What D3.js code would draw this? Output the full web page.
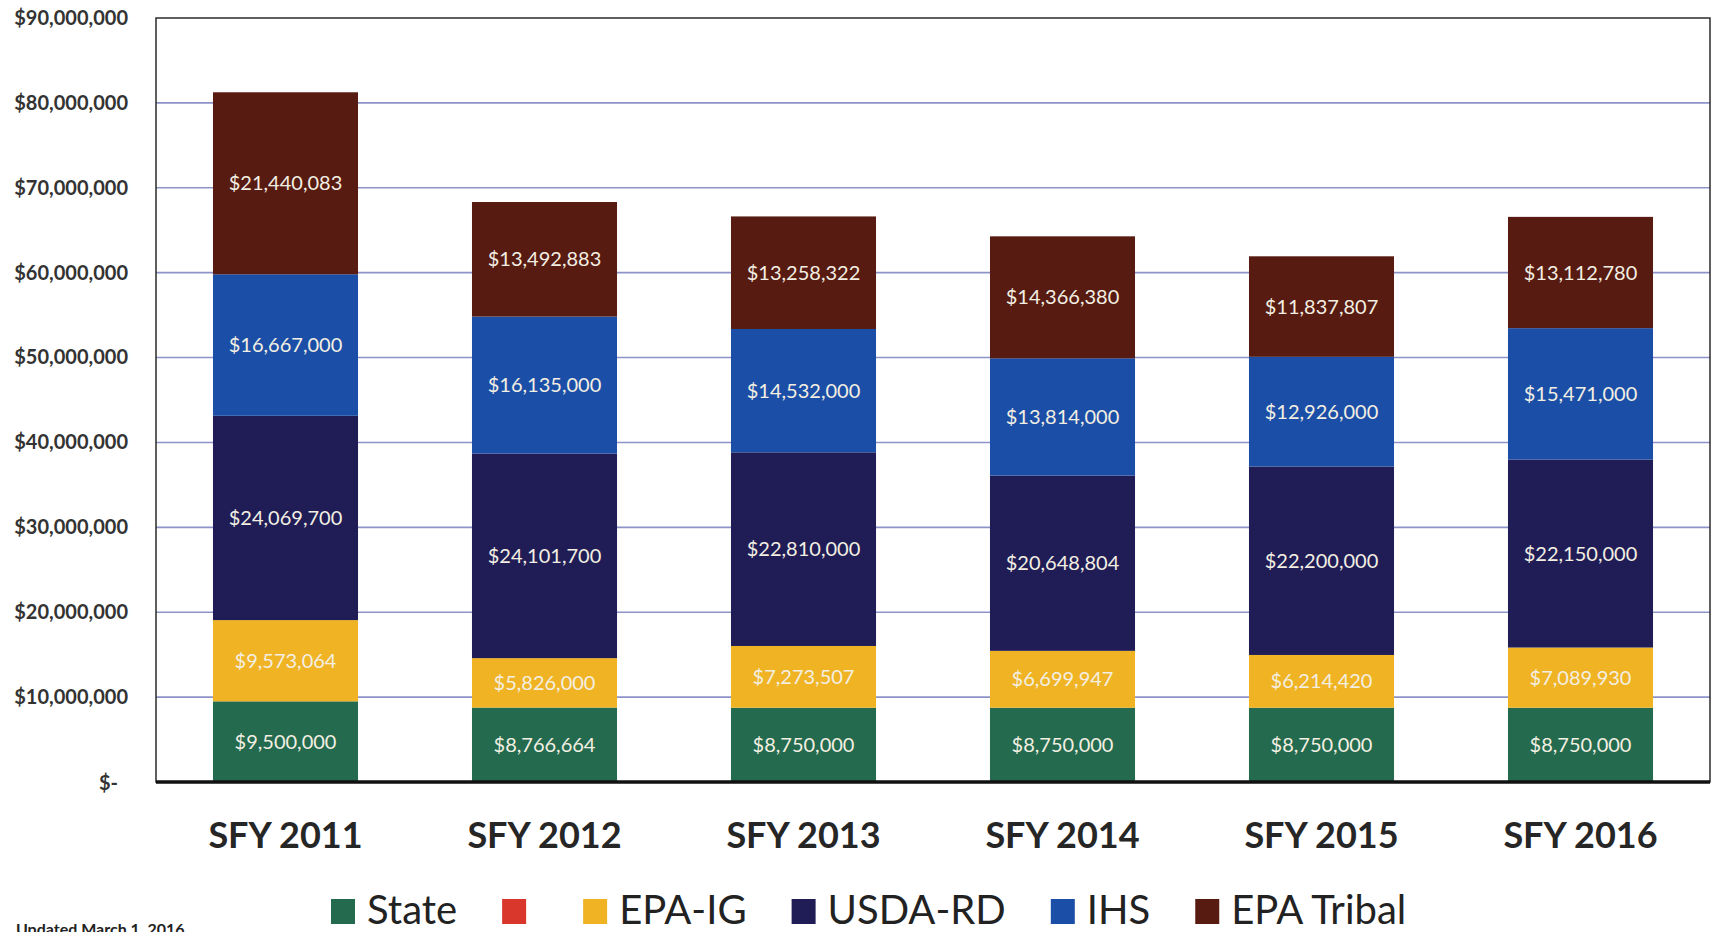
<!DOCTYPE html>
<html>
<head>
<meta charset="utf-8">
<script src="https://cdn.jsdelivr.net/npm/d3@7"></script>
<style>
  body { margin: 0; background: #fff; }
  svg { display: block; font-family: Lato, "Open Sans", sans-serif; }
</style>
</head>
<body>
<div id="chart"></div>
<script>
// data
var years = ["SFY 2011", "SFY 2012", "SFY 2013", "SFY 2014", "SFY 2015", "SFY 2016"];
var seriesNames = ["State", "", "EPA-IG", "USDA-RD", "IHS", "EPA Tribal"];
var seriesColors = ["#236a4e", "#d9372b", "#efb324", "#201d56", "#1b4ea7", "#571b11"];

var state     = [9500000, 8766664, 8750000, 8750000, 8750000, 8750000];
var blank     = [0, 0, 0, 0, 0, 0];
var epaIG     = [9573064, 5826000, 7273507, 6699947, 6214420, 7089930];
var usdaRD    = [24069700, 24101700, 22810000, 20648804, 22200000, 22150000];
var ihs       = [16667000, 16135000, 14532000, 13814000, 12926000, 15471000];
var epaTribal = [21440083, 13492883, 13258322, 14366380, 11837807, 13112780];

var yTicks = [0, 10000000, 20000000, 30000000, 40000000, 50000000, 60000000, 70000000, 80000000, 90000000];

// define dimensions
var svgWidth = 1714;
var svgHeight = 932;
var margin = { top: 18, right: 4, bottom: 150, left: 156 };
var width = svgWidth - margin.left - margin.right;
var height = svgHeight - margin.top - margin.bottom;

var svg = d3.select("#chart")
    .append("svg")
    .attr("width", svgWidth)
    .attr("height", svgHeight);

// build rows for the stack
var allSeries = [state, blank, epaIG, usdaRD, ihs, epaTribal];
var keys = seriesNames.map(function (n, i) { return "s" + i; });
var rows = years.map(function (yr, j) {
    var r = { year: yr };
    keys.forEach(function (k, i) { r[k] = allSeries[i][j]; });
    return r;
});
var stacked = d3.stack().keys(keys)(rows);

var x = d3.scaleBand()
    .domain(years)
    .range([0, width])
    .paddingInner(0.44)
    .paddingOuter(0.22);

var y = d3.scaleLinear()
    .domain([0, 90000000])
    .range([height, 0]);

var g = svg.append("g")
    .attr("transform", "translate(" + margin.left + "," + margin.top + ")");

// plot background
g.append("rect")
    .attr("width", width)
    .attr("height", height)
    .attr("fill", "#fff");

// gridlines
g.append("g")
    .selectAll("line")
    .data(yTicks.filter(function (d) { return d > 0 && d < 90000000; }))
    .enter()
    .append("line")
    .attr("x1", 0)
    .attr("x2", width)
    .attr("y1", function (d) { return y(d); })
    .attr("y2", function (d) { return y(d); })
    .attr("stroke", "#8d93c9")
    .attr("stroke-width", 1.6);

// bars
var layer = g.selectAll(".layer")
    .data(stacked)
    .enter()
    .append("g")
    .attr("class", "layer")
    .attr("fill", function (d, i) { return seriesColors[i]; });

layer.selectAll("rect")
    .data(function (d) { return d; })
    .enter()
    .append("rect")
    .attr("x", function (d) { return x(d.data.year); })
    .attr("width", x.bandwidth())
    .attr("y", function (d) { return y(d[1]); })
    .attr("height", function (d) { return y(d[0]) - y(d[1]); });

// value labels inside segments
var fmt = d3.format("$,");
layer.selectAll("text")
    .data(function (d) { return d.filter(function (s) { return s[1] - s[0] > 0; }); })
    .enter()
    .append("text")
    .attr("x", function (d) { return x(d.data.year) + x.bandwidth() / 2; })
    .attr("y", function (d) { return (y(d[0]) + y(d[1])) / 2; })
    .attr("dy", "0.35em")
    .attr("text-anchor", "middle")
    .attr("fill", "#f3efe2")
    .style("font-size", "20px")
    .text(function (d) { return fmt(d[1] - d[0]); });

// frame
g.append("rect")
    .attr("width", width)
    .attr("height", height)
    .attr("fill", "none")
    .attr("stroke", "#2b2b2b")
    .attr("stroke-width", 1.5);

g.append("line")
    .attr("x1", 0)
    .attr("x2", width)
    .attr("y1", y(0))
    .attr("y2", y(0))
    .attr("stroke", "#111")
    .attr("stroke-width", 3.5);

// y axis
var yAxis = g.append("g")
    .call(d3.axisLeft(y)
        .tickValues(yTicks)
        .tickSize(0)
        .tickPadding(28)
        .tickFormat(function (d) { return d === 0 ? "$-" : fmt(d); }));
yAxis.select(".domain").remove();
yAxis.selectAll("text")
    .attr("fill", "#333")
    .style("font-size", "20px")
    .style("font-weight", "bold")
    .style("font-family", "Lato, sans-serif")
    .attr("transform", function (d) { return d === 0 ? "translate(-10,1)" : null; });

// x axis
var xAxis = g.append("g")
    .attr("transform", "translate(0," + height + ")")
    .call(d3.axisBottom(x).tickSize(0).tickPadding(40));
xAxis.select(".domain").remove();
xAxis.selectAll("text")
    .attr("fill", "#262626")
    .style("font-size", "36px")
    .style("font-weight", "bold")
    .style("font-family", "Lato, sans-serif");

// legend
var legend = svg.append("g")
    .attr("transform", "translate(331,899)");
var lx = 0;
seriesNames.forEach(function (name, i) {
    var item = legend.append("g").attr("transform", "translate(" + lx + ",0)");
    item.append("rect")
        .attr("width", 24)
        .attr("height", 25)
        .attr("fill", seriesColors[i]);
    var t = item.append("text")
        .attr("x", 36)
        .attr("y", 25)
        .attr("fill", "#222")
        .style("font-size", "40px")
        .text(name);
    var w = name ? t.node().getComputedTextLength() : 0;
    lx += 36 + w + 45;
});

// footnote (cut by the bottom edge, as in the source)
svg.append("text")
    .attr("x", 16)
    .attr("y", 935)
    .attr("fill", "#222")
    .style("font-size", "16px")
    .style("font-weight", "bold")
    .text("Updated March 1, 2016");
</script>
</body>
</html>
